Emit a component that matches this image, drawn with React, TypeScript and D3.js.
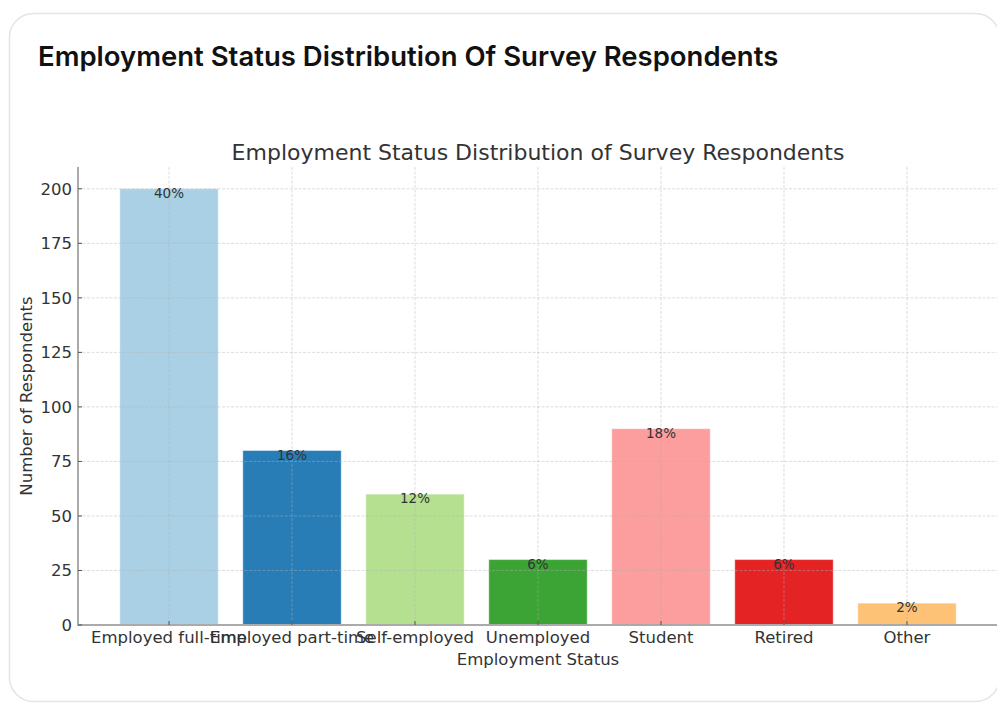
import React from "react";
import * as d3 from "d3";

const categories = [
  "Employed full-time",
  "Employed part-time",
  "Self-employed",
  "Unemployed",
  "Student",
  "Retired",
  "Other",
];
const counts = [200, 80, 60, 30, 90, 30, 10];
const percentLabels = ["40%", "16%", "12%", "6%", "18%", "6%", "2%"];
const barColors = ["#a6cee3", "#1f78b4", "#b2df8a", "#33a02c", "#fb9a99", "#e31a1c", "#fdbf6f"];
const yTicks = [0, 25, 50, 75, 100, 125, 150, 175, 200];

const W = 997;
const H = 707;
const plot = { left: 78, right: 998, top: 167, bottom: 625 };

export default function App() {
  const x = d3
    .scaleLinear()
    .domain([-0.74, categories.length - 1 + 0.74])
    .range([plot.left, plot.right]);
  const y = d3.scaleLinear().domain([0, 210]).range([plot.bottom, plot.top]);
  const barW = x(0.8) - x(0);

  const sans = "'DejaVu Sans', sans-serif";
  const tickColor = "#333";
  const tickSize = 16.5;

  return (
    <svg
      width={W}
      height={H}
      style={{ position: "absolute", left: 0, top: 0, background: "#fff" }}
    >
      {/* card */}
      <rect
        x={9.5}
        y={13.5}
        width={990}
        height={688}
        rx={24}
        fill="#fff"
        stroke="#e4e4e4"
        strokeWidth={1.5}
      />
      <text
        x={38}
        y={66}
        fontFamily="Inter, 'Noto Sans', sans-serif"
        fontWeight={600}
        fontSize={27.5}
        fill="#111"
      >
        Employment Status Distribution Of Survey Respondents
      </text>

      {/* chart title */}
      <text
        x={x(3)}
        y={160}
        textAnchor="middle"
        fontFamily={sans}
        fontSize={22}
        fill="#333"
      >
        Employment Status Distribution of Survey Respondents
      </text>

      {/* bars */}
      {counts.map((v, i) => (
        <rect
          key={categories[i]}
          x={x(i) - barW / 2}
          y={y(v)}
          width={barW}
          height={y(0) - y(v)}
          fill={barColors[i]}
          fillOpacity={0.96}
          stroke="#fff"
          strokeOpacity={0.4}
          strokeWidth={1}
        />
      ))}

      {/* grid (drawn above the bars) */}
      {yTicks.map((t) => (
        <line
          key={"gy" + t}
          x1={plot.left}
          x2={plot.right}
          y1={y(t)}
          y2={y(t)}
          stroke="#b0b0b0"
          strokeOpacity={0.55}
          strokeWidth={0.8}
          strokeDasharray="3,1.5"
        />
      ))}
      {categories.map((c, i) => (
        <line
          key={"gx" + c}
          x1={x(i)}
          x2={x(i)}
          y1={plot.top}
          y2={plot.bottom}
          stroke="#b0b0b0"
          strokeOpacity={0.55}
          strokeWidth={0.8}
          strokeDasharray="3,1.5"
        />
      ))}

      {/* percent labels */}
      {counts.map((v, i) => (
        <text
          key={"p" + i}
          x={x(i)}
          y={y(v) + 9}
          textAnchor="middle"
          fontFamily={sans}
          fontSize={13.5}
          fill="#333"
        >
          {percentLabels[i]}
        </text>
      ))}

      {/* spines */}
      <line
        x1={plot.left}
        x2={plot.left}
        y1={plot.top}
        y2={plot.bottom + 1}
        stroke="#aaa"
        strokeWidth={2}
      />
      <line
        x1={plot.left - 1}
        x2={plot.right}
        y1={plot.bottom}
        y2={plot.bottom}
        stroke="#aaa"
        strokeWidth={2}
      />

      {/* y ticks */}
      {yTicks.map((t) => (
        <g key={"yt" + t}>
          <line
            x1={plot.left}
            x2={plot.left + 4}
            y1={y(t)}
            y2={y(t)}
            stroke="#555"
            strokeWidth={1}
          />
          <text
            x={plot.left - 6}
            y={y(t)}
            dy="0.36em"
            textAnchor="end"
            fontFamily={sans}
            fontSize={tickSize}
            fill={tickColor}
          >
            {t}
          </text>
        </g>
      ))}

      {/* x ticks */}
      {categories.map((c, i) => (
        <g key={"xt" + c}>
          <line
            x1={x(i)}
            x2={x(i)}
            y1={plot.bottom}
            y2={plot.bottom - 4}
            stroke="#555"
            strokeWidth={1}
          />
          <text
            x={x(i)}
            y={plot.bottom + 18}
            textAnchor="middle"
            fontFamily={sans}
            fontSize={tickSize}
            fill={tickColor}
          >
            {c}
          </text>
        </g>
      ))}

      {/* axis labels */}
      <text
        x={x(3)}
        y={665}
        textAnchor="middle"
        fontFamily={sans}
        fontSize={tickSize}
        fill={tickColor}
      >
        Employment Status
      </text>
      <text
        transform={`translate(32, ${(plot.top + plot.bottom) / 2}) rotate(-90)`}
        textAnchor="middle"
        fontFamily={sans}
        fontSize={tickSize}
        fill={tickColor}
      >
        Number of Respondents
      </text>
    </svg>
  );
}
